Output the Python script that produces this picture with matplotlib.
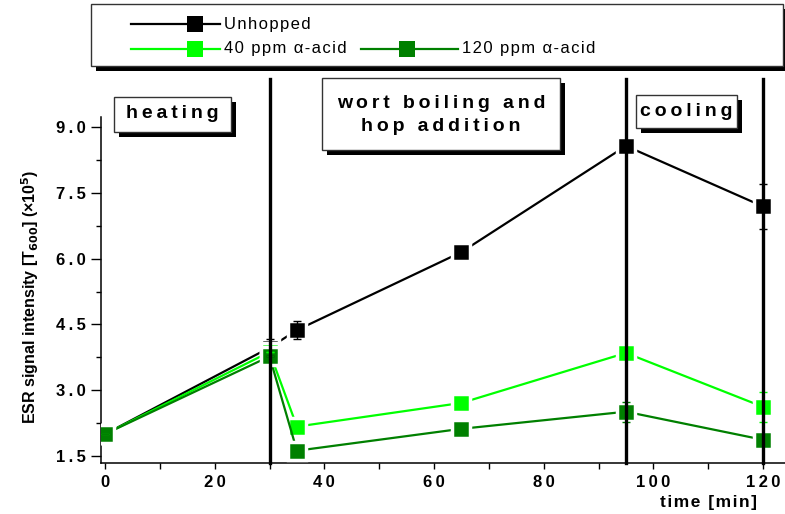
import matplotlib
matplotlib.use("Agg")
import matplotlib.pyplot as plt
from matplotlib.lines import Line2D
from matplotlib.patches import Rectangle

plt.rcParams["font.family"] = ["Liberation Sans", "DejaVu Sans"]

# sampling times during brewing (min)
time_min = [0, 30, 35, 65, 95, 120]

# ESR signal intensity T600 (x10^5)
unhopped = [2.0, 3.97, 4.37, 6.15, 8.57, 7.19]
unhopped_err = [0.0, 0.2, 0.21, 0.0, 0.0, 0.51]
ppm40 = [2.0, 3.87, 2.17, 2.71, 3.85, 2.62]
ppm40_err = [0.0, 0.0, 0.0, 0.0, 0.0, 0.35]
ppm120 = [2.0, 3.77, 1.62, 2.12, 2.51, 1.87]
ppm120_err = [0.0, 0.0, 0.0, 0.0, 0.23, 0.0]

x_ticks = [0, 20, 40, 60, 80, 100, 120]
y_ticks = [1.5, 3.0, 4.5, 6.0, 7.5, 9.0]
y_ticklabels = ["1.5", "3.0", "4.5", "6.0", "7.5", "9.0"]

phase_marks = [30, 95, 120]

series = [
    ("Unhopped", unhopped, unhopped_err, "#000000"),
    ("40 ppm \u03b1-acid", ppm40, ppm40_err, "#00ff00"),
    ("120 ppm \u03b1-acid", ppm120, ppm120_err, "#008000"),
]

W, H = 785, 514
THIN, HAIR = "\u2009", "\u200a"


def px(x, y):
    """pixel position (origin top-left) -> figure fraction"""
    return x / W, 1 - y / H


def spaced(s, sep=THIN):
    # loose tracking, one narrow space between every glyph
    return sep.join(s)


fig = plt.figure(figsize=(W / 100, H / 100), dpi=100)
ax = fig.add_axes([101 / W, (H - 463) / H, (785 - 101) / W, (463 - 117) / H])

for i, (name, vals, err, col) in enumerate(series):
    # white marker rim leaves a small gap where the line meets each point
    ax.plot(time_min, vals, color=col, lw=1.6, marker="s", ms=12.5,
            mfc=col, mec="white", mew=2.5, zorder=3 + i * 0.1)
    ax.errorbar(time_min, vals, yerr=err, fmt="none", ecolor=col,
                elinewidth=1.0, capsize=3, capthick=1.0, zorder=4)

ax.set_xlim(-0.73, 124.0)
ax.set_ylim(1.34, 9.23)

# phase boundaries run up past the axes top, into the header area
for t in phase_marks:
    ax.plot([t, t], [1.34, 10.1], color="black", lw=2.4, zorder=5, clip_on=False)

for s in ["top", "right"]:
    ax.spines[s].set_visible(False)
for s in ["left", "bottom"]:
    ax.spines[s].set_linewidth(1.1)

ax.set_xticks(x_ticks)
ax.set_xticklabels([spaced(str(v)) for v in x_ticks])
ax.set_xticks(range(10, 121, 20), minor=True)
ax.set_yticks(y_ticks)
ax.set_yticklabels([spaced(v) for v in y_ticklabels])
ax.set_yticks([2.25, 3.75, 5.25, 6.75, 8.25], minor=True)
ax.tick_params(axis="x", which="both", direction="out", length=4.5, width=1.0,
               pad=4, labelsize=12)
ax.tick_params(axis="y", which="major", direction="out", length=7, width=1.0,
               pad=4, labelsize=12)
ax.tick_params(axis="y", which="minor", direction="out", length=3.5, width=1.0)
for lab in ax.get_xticklabels() + ax.get_yticklabels():
    lab.set_fontweight("bold")

fig.text(*px(30, 297), "ESR signal intensity [T$_{\\mathbf{600}}$] (\u00d710$^{\\mathbf{5}}$)",
         rotation=90, ha="center", va="center", fontsize=11.5, fontweight="bold")
fig.text(*px(708, 502), spaced("time [min]", HAIR), ha="center", va="center",
         fontsize=12.5, fontweight="bold")


def shadow_box(x0, y0, x1, y1, off=5):
    fx0, fy1 = px(x0, y1)
    fx1, fy0 = px(x1, y0)
    dx, dy = off / W, off / H
    fig.add_artist(Rectangle((fx0 + dx, fy1 - dy), fx1 - fx0, fy0 - fy1,
                             transform=fig.transFigure, fc="black", ec="black",
                             lw=0, zorder=8))
    fig.add_artist(Rectangle((fx0, fy1), fx1 - fx0, fy0 - fy1,
                             transform=fig.transFigure, fc="white", ec="#333333",
                             lw=1.0, zorder=9))


# phase labels
shadow_box(114, 97, 231, 132)
fig.text(*px(172, 114), spaced("heating"), ha="center", va="center", fontsize=14,
         fontweight="bold", zorder=10)
shadow_box(322, 78, 560, 150)
fig.text(*px(441, 115), spaced("wort boiling and") + "\n" + spaced("hop addition"),
         ha="center", va="center", fontsize=14, fontweight="bold",
         linespacing=1.45, zorder=10)
shadow_box(636, 95, 737, 128)
fig.text(*px(686, 112), spaced("cooling"), ha="center", va="center", fontsize=14,
         fontweight="bold", zorder=10)

# legend panel
shadow_box(91, 4, 783, 66, off=5)
legend_pos = [(131, 220, 195, 24), (131, 220, 195, 49), (361, 458, 407, 49)]
for (name, _, _, col), (lx0, lx1, mx, ly) in zip(series, legend_pos):
    a0, b = px(lx0, ly)
    a1, _ = px(lx1, ly)
    am, _ = px(mx, ly)
    fig.add_artist(Line2D([a0, a1], [b, b], color=col, lw=1.6,
                          transform=fig.transFigure, zorder=10))
    fig.add_artist(Line2D([am], [b], color=col, marker="s", ms=11, mew=0,
                          transform=fig.transFigure, zorder=11))
    fig.text(a1 + 4 / W, b, spaced(name, HAIR), ha="left", va="center",
             fontsize=12, zorder=11)

fig.savefig("out.png", dpi=100)
